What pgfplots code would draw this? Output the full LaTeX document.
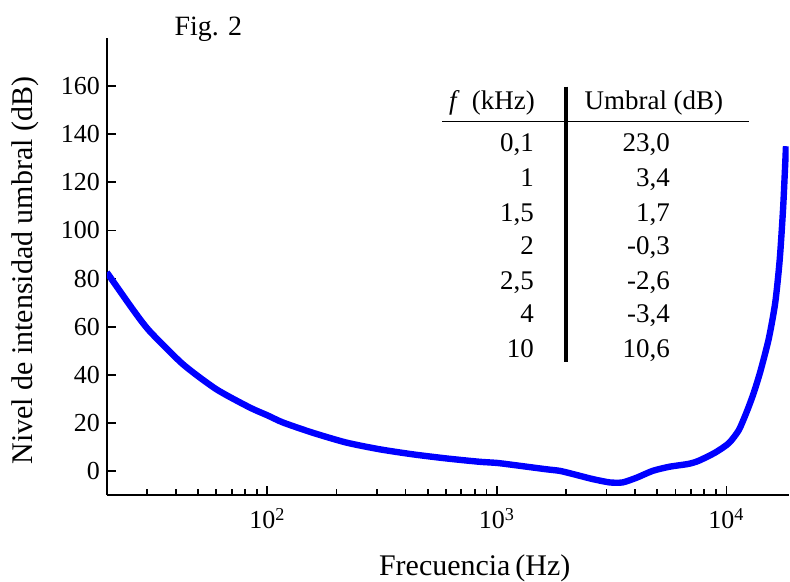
\documentclass[border=0pt]{standalone}
\usepackage{fontspec}
\setmainfont{Liberation Serif}
\usepackage{pgfplots}
\pgfplotsset{compat=1.18}
\newcommand{\tabfont}{\fontsize{13.5}{16}\selectfont}
\begin{document}
\begin{tikzpicture}
\begin{axis}[name=ax,
  scale only axis, width=341.5pt, height=229pt,
  xmode=log, xmin=20, xmax=18660, ymin=-10, ymax=180,
  clip mode=individual,
  axis x line=bottom, axis y line=left,
  axis line style={-, line width=1.3pt, black},
  tick align=inside, major tick length=4.5pt, minor tick length=3pt,
  every tick/.style={black, line width=0.9pt},
  xtick={100,1000,10000},
  minor xtick={30,40,50,60,70,80,90,200,300,400,500,600,700,800,900,2000,3000,4000,5000,6000,7000,8000,9000},
  xticklabels={10\textsuperscript{2},10\textsuperscript{3},10\textsuperscript{4}},
  ytick={0,20,...,160},
  /pgf/number format/assume math mode=true,
  tick label style={font=\fontsize{13}{15}\selectfont},
  xticklabel style={yshift=-3pt},
  xlabel={Frecuencia\,(Hz)},
  ylabel={Nivel de intensidad umbral (dB)},
  label style={font=\fontsize{15}{18}\selectfont, inner sep=0pt},
  xlabel style={at={(axis description cs:0.5395,-0.1747)}, anchor=base},
  ylabel style={at={(axis description cs:-0.1083,0.491)}, anchor=base},
]
\addplot[blue, line width=3.2pt, line join=round, smooth, tension=0.4] coordinates {
(20,82.6) (26,67.1) (30.7,58.2) (42.9,44.4) (60,34.0) (84,26.4) (100,23.2)
(117,20.2) (157,16.0) (220,11.9) (307,9.1) (428,7.0) (598,5.3) (835,3.9)
(1000,3.4) (1170,2.6) (1630,0.8) (1880,0.1) (2140,-1.2) (2610,-3.3)
(3100,-4.7) (3530,-4.7) (4070,-2.7) (4770,0.1) (5630,1.8) (6830,3.0)
(7570,4.3) (8930,7.7) (10232,11.6) (11310,17.0) (12290,25.0) (13140,32.5)
(14050,41.5) (15277,55.0) (16305,70.0) (17055,88.0) (17660,110.0) (18160,135.0)
};
\node[anchor=base, font=\fontsize{14}{16}\selectfont] at (rel axis cs:0.149,1.0044) {Fig. 2};
% inset table
\node[anchor=base east, font=\tabfont] at (rel axis cs:0.6379,0.8428) {\textit{f}\hspace{0.45em}(kHz)};
\node[anchor=base, font=\tabfont] at (rel axis cs:0.8023,0.8428) {Umbral (dB)};
\draw[line width=0.8pt] (rel axis cs:0.492,0.8173) -- (rel axis cs:0.9414,0.8173);
\draw[line width=2pt] (rel axis cs:0.6729,0.8937) -- (rel axis cs:0.6729,0.2904);
\node[anchor=base east, font=\tabfont] at (rel axis cs:0.6365,0.7517) {0,1};
\node[anchor=base east, font=\tabfont] at (rel axis cs:0.6365,0.6753) {1};
\node[anchor=base east, font=\tabfont] at (rel axis cs:0.6365,0.5989) {1,5};
\node[anchor=base east, font=\tabfont] at (rel axis cs:0.6365,0.5262) {2};
\node[anchor=base east, font=\tabfont] at (rel axis cs:0.6365,0.4498) {2,5};
\node[anchor=base east, font=\tabfont] at (rel axis cs:0.6365,0.3777) {4};
\node[anchor=base east, font=\tabfont] at (rel axis cs:0.6365,0.3013) {10};
\node[anchor=base east, font=\tabfont] at (rel axis cs:0.836,0.7517) {23,0};
\node[anchor=base east, font=\tabfont] at (rel axis cs:0.836,0.6753) {3,4};
\node[anchor=base east, font=\tabfont] at (rel axis cs:0.836,0.5989) {1,7};
\node[anchor=base east, font=\tabfont] at (rel axis cs:0.836,0.5262) {-0,3};
\node[anchor=base east, font=\tabfont] at (rel axis cs:0.836,0.4498) {-2,6};
\node[anchor=base east, font=\tabfont] at (rel axis cs:0.836,0.3777) {-3,4};
\node[anchor=base east, font=\tabfont] at (rel axis cs:0.836,0.3013) {10,6};
\end{axis}
\path (ax.south west) ++(-53.5pt,-42.5pt) rectangle ++(395pt,290.5pt);
\end{tikzpicture}
\end{document}
